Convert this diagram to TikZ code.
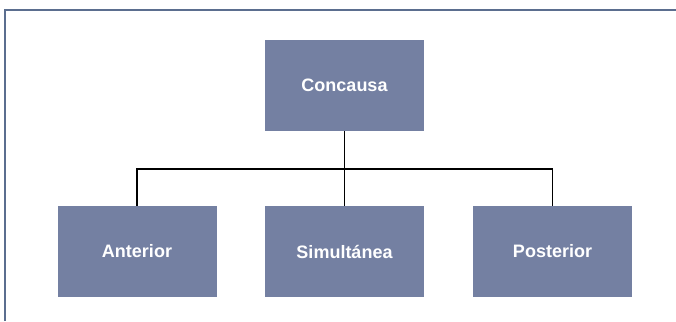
\documentclass[tikz,border=0pt]{standalone}
\usepackage{fontspec}
\setmainfont{Liberation Sans}
\definecolor{boxfill}{HTML}{7480A2}
\definecolor{framecol}{HTML}{5B6E8F}
\begin{document}
\begin{tikzpicture}[x=1pt,y=-1pt,
  catbox/.style={fill=boxfill, draw=none, minimum width=159pt, minimum height=91pt,
    inner sep=0pt, text=white, font=\fontsize{18}{20}\selectfont\bfseries},
  link/.style={draw=black, line width=1.3pt}]
\useasboundingbox (0,0) rectangle (676,321);
% outer frame, top and left edges only
\draw[framecol, line width=2pt] (5,321) -- (5,10) -- (676,10);
% boxes
\node[catbox] (root) at (344.5,85.5) {Concausa};
\node[catbox] (ant) at (137,251.5) {Anterior};
\node[catbox] (sim) at (344.5,251.5) {Simultánea};
\node[catbox] (pos) at (552.5,251.5) {Posterior};
% branches
\coordinate (hub) at (344.5,169);
\draw[link] (root.south) -- (hub);
\draw[link] (ant.north) |- (hub) -| (pos.north);
\draw[link] (hub) -- (sim.north);
\end{tikzpicture}
\end{document}
